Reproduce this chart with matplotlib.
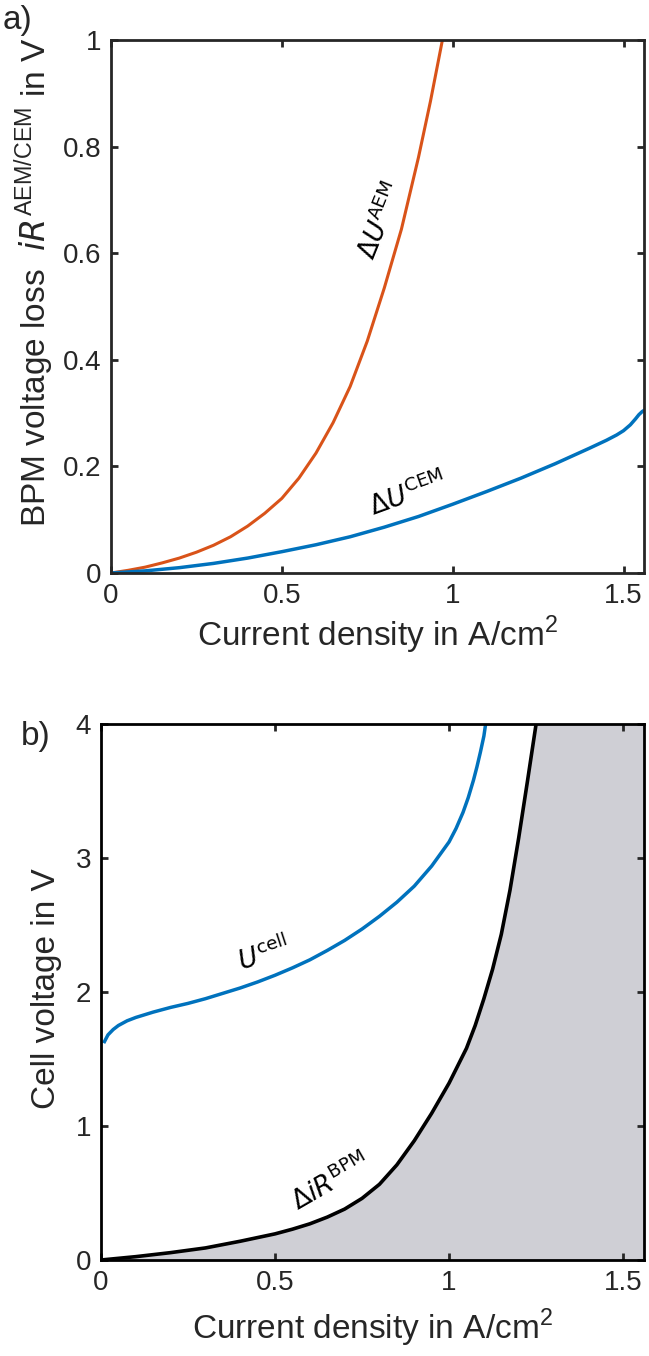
import numpy as np
import matplotlib
matplotlib.use("Agg")
import matplotlib.pyplot as plt

plt.rcParams['font.family'] = ['Liberation Sans', 'DejaVu Sans']
plt.rcParams['mathtext.fontset'] = 'custom'
plt.rcParams['mathtext.rm'] = 'Liberation Sans'
plt.rcParams['mathtext.it'] = 'DejaVu Sans:italic'

# panel a data (current density in A/cm2, voltage in V)
aem_j = [0, 0.05, 0.1, 0.15, 0.2, 0.25, 0.3, 0.35, 0.4, 0.45, 0.5, 0.55, 0.6, 0.65,
         0.7, 0.75, 0.8, 0.85, 0.9, 0.935, 0.97]
aem_u = [0, 0.005, 0.011, 0.019, 0.028, 0.039, 0.052, 0.068, 0.088, 0.112, 0.140, 0.178,
         0.225, 0.282, 0.35, 0.435, 0.535, 0.645, 0.78, 0.885, 1.0]

cem_j = [0, 0.1, 0.2, 0.3, 0.4, 0.5, 0.6, 0.7, 0.8, 0.9, 1.0, 1.1, 1.2, 1.3, 1.4, 1.45,
         1.48, 1.5, 1.52, 1.535, 1.545, 1.555, 1.56]
cem_u = [0, 0.004, 0.01, 0.018, 0.028, 0.04, 0.053, 0.068, 0.086, 0.106, 0.129, 0.153,
         0.178, 0.205, 0.234, 0.249, 0.259, 0.267, 0.278, 0.289, 0.297, 0.303, 0.305]

# panel b data
cell_j = [0.01, 0.02, 0.035, 0.05, 0.075, 0.1, 0.15, 0.2, 0.25, 0.3, 0.35, 0.4, 0.45,
          0.5, 0.55, 0.6, 0.65, 0.7, 0.75, 0.8, 0.85, 0.9, 0.95, 1.0, 1.02, 1.04,
          1.055, 1.07, 1.08, 1.09, 1.1, 1.105]
cell_u = [1.63, 1.68, 1.72, 1.75, 1.785, 1.81, 1.85, 1.885, 1.915, 1.95, 1.99, 2.03,
          2.075, 2.125, 2.18, 2.24, 2.31, 2.385, 2.47, 2.565, 2.67, 2.79, 2.94, 3.12,
          3.22, 3.34, 3.45, 3.58, 3.68, 3.79, 3.91, 4.0]

bpm_j = [0, 0.1, 0.2, 0.3, 0.4, 0.5, 0.55, 0.6, 0.65, 0.7, 0.75, 0.8, 0.85, 0.9, 0.95,
         1.0, 1.05, 1.075, 1.1, 1.125, 1.15, 1.175, 1.2, 1.225, 1.25]
bpm_u = [0, 0.025, 0.055, 0.09, 0.14, 0.195, 0.23, 0.27, 0.32, 0.38, 0.46, 0.565, 0.71,
         0.89, 1.095, 1.32, 1.58, 1.75, 1.95, 2.17, 2.43, 2.76, 3.15, 3.57, 4.0]

xmax = 1.56
orange = '#D95319'
blue = '#0072BD'
txt = '#262626'

fig = plt.figure(figsize=(6.49, 13.56), dpi=100)

def style(ax):
    for s in ax.spines.values():
        s.set_linewidth(2.0)
        s.set_color(txt)
    ax.tick_params(direction='in', length=5, width=2, top=True, right=True,
                   labelsize=20, colors=txt, pad=7)

# ---- panel a ----
ax1 = fig.add_axes([111/649, 1-573/1356, 533/649, 533/1356])
ax1.plot(aem_j, aem_u, color=orange, lw=2.2)
ax1.plot(cem_j, cem_u, color=blue, lw=2.5)
ax1.set_xlim(0, xmax)
ax1.set_ylim(0, 1)
ax1.set_xticks([0, 0.5, 1, 1.5])
ax1.set_xticklabels(['0', '0.5', '1', '1.5'])
ax1.set_yticks([0, 0.2, 0.4, 0.6, 0.8, 1])
ax1.set_yticklabels(['0', '0.2', '0.4', '0.6', '0.8', '1'])
style(ax1)
ax1.set_xlabel(r'Current density in A/cm$^2$', fontsize=24, color=txt, labelpad=4)
ax1.set_ylabel(r'BPM voltage loss  $\mathit{iR}^{\mathrm{AEM/CEM}}$ in V', fontsize=24, color=txt)
ax1.yaxis.set_label_coords(-0.103, 0.546)
ax1.text(0.79, 0.66, r'$\mathit{ΔU}^{\mathrm{AEM}}$', math_fontfamily='dejavusans',
         fontsize=19, rotation=68, ha='center', va='center')
ax1.text(0.87, 0.148, r'$\mathit{ΔU}^{\mathrm{CEM}}$', math_fontfamily='dejavusans',
         fontsize=19, rotation=20, ha='center', va='center')
fig.text(18/649, 1-20/1356, 'a)', fontsize=24, ha='center', va='center', color=txt)

# ---- panel b ----
ax2 = fig.add_axes([101/649, 1-1260/1356, 543/649, 536/1356])
ax2.fill_between(bpm_j + [xmax], bpm_u + [4.0], 0, color='#cfcfd5', lw=0)
ax2.plot(bpm_j, bpm_u, color='black', lw=2.6)
ax2.plot(cell_j, cell_u, color=blue, lw=2.5)
ax2.set_xlim(0, xmax)
ax2.set_ylim(0, 4)
ax2.set_xticks([0, 0.5, 1, 1.5])
ax2.set_xticklabels(['0', '0.5', '1', '1.5'])
ax2.set_yticks([0, 1, 2, 3, 4])
style(ax2)
for s in ax2.spines.values():
    s.set_color('black')
ax2.set_xlabel(r'Current density in A/cm$^2$', fontsize=24, color=txt, labelpad=8)
ax2.set_ylabel('Cell voltage in V', fontsize=24, color=txt)
ax2.yaxis.set_label_coords(-0.072, 0.507)
ax2.text(0.467, 2.28, r'$\mathit{U}^{\mathrm{cell}}$', math_fontfamily='dejavusans',
         fontsize=19, rotation=18, ha='center', va='center')
ax2.text(0.66, 0.58, r'$Δ\mathit{iR}^{\mathrm{BPM}}$', math_fontfamily='dejavusans',
         fontsize=19, rotation=30, ha='center', va='center')
fig.text(36/649, 1-737/1356, 'b)', fontsize=24, ha='center', va='center', color=txt)

fig.savefig('out.png', dpi=100)
